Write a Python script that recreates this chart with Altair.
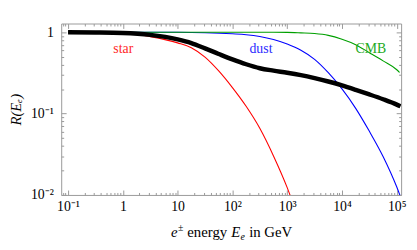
import altair as alt
import pandas as pd

# ---- data ----
STAR_E = [0.1, 0.316, 1, 3.16, 10, 17.8, 31.6, 56.2, 100, 178, 316, 562, 1000, 1260]
STAR_R = [1.0, 0.995, 0.984, 0.883, 0.74, 0.646, 0.495, 0.335, 0.209, 0.123, 0.066, 0.0302, 0.0123, 0.0081]

DUST_E = [0.1, 1, 10, 31.6, 100, 178, 316, 562, 1000, 1778, 3162, 5623, 10000, 17783, 31623, 56234, 100000, 125900]
DUST_R = [1.0, 1.0, 0.998, 0.986, 0.956, 0.933, 0.887, 0.813, 0.715, 0.60, 0.464, 0.318, 0.201, 0.116, 0.0605, 0.0297, 0.0125, 0.0083]

CMB_E = [0.1, 10, 100, 316, 562, 1000, 1778, 3162, 5623, 10000, 17783, 31623, 56234, 100000, 112200]
CMB_R = [1.0, 1.0, 1.0, 1.0, 0.999, 0.997, 0.983, 0.964, 0.915, 0.82, 0.703, 0.561, 0.445, 0.346, 0.32]

TOTAL_E = [0.1, 0.316, 1, 3.16, 10, 17.8, 31.6, 56.2, 100, 178, 316, 562, 1000, 1778, 3162,
           5623, 10000, 17783, 31623, 56234, 100000, 117000]
TOTAL_R = [1.0, 0.995, 0.98, 0.927, 0.816, 0.736, 0.634, 0.541, 0.464, 0.404, 0.361, 0.337, 0.318,
           0.297, 0.273, 0.248, 0.222, 0.196, 0.172, 0.150, 0.129, 0.123]

LABELS = ["star", "dust", "CMB"]
LABEL_E = [1.02, 332, 33700]
LABEL_R = [0.556, 0.556, 0.556]
LABEL_COLORS = ["#ff2a2a", "#2a2aff", "#22aa22"]

XTICKS = [0.1, 1, 10, 100, 1000, 10000, 100000]
XTICK_LABELS = ["10⁻¹", "1", "10", "10²", "10³", "10⁴", "10⁵"]
YTICKS = [0.01, 0.1, 1]
YTICK_LABELS = ["10⁻²", "10⁻¹", "1"]

X_DOMAIN = [0.075, 1.2e5]
Y_DOMAIN = [0.01, 1.28]

W, H = 345, 174
FONT = "Liberation Serif"
GRAY = "#999999"

# all tick positions (major + minor) inside the domains
def all_ticks(lo, hi):
    out = []
    for d in range(-3, 7):
        for k in range(1, 10):
            v = k * 10.0 ** d
            if lo <= v <= hi:
                out.append(v)
    return out

X_ALL = all_ticks(*X_DOMAIN)
Y_ALL = all_ticks(*Y_DOMAIN)

MAJOR_TEST = "abs(log(datum.value)/LN10 - round(log(datum.value)/LN10)) < 0.001"
TICK_SIZE = {"condition": {"test": MAJOR_TEST, "value": 5}, "value": 2.5}

xs = alt.Scale(type="log", domain=X_DOMAIN, nice=False)
ys = alt.Scale(type="log", domain=Y_DOMAIN, nice=False)

def lbl_expr(labels):
    return "[" + ",".join("'" + s + "'" for s in labels) + "]"

x_lab_expr = lbl_expr(XTICK_LABELS) + "[round(log(datum.value)/LN10) + 1]"
y_lab_expr = lbl_expr(YTICK_LABELS) + "[round(log(datum.value)/LN10) + 2]"

# labelled axes (bottom / left), no ticks
x_main = alt.Axis(orient="bottom", values=XTICKS, labelExpr=x_lab_expr, ticks=False, domain=False,
                  grid=False, labelFont=FONT, labelFontSize=14, labelColor="black", labelPadding=5,
                  labelFlush=False, labelOverlap=False, title=None)
y_main = alt.Axis(orient="left", values=YTICKS, labelExpr=y_lab_expr, ticks=False, domain=False,
                  grid=False, labelFont=FONT, labelFontSize=14, labelColor="black", labelPadding=8,
                  labelFlush=False, labelOverlap=False,
                  title="R(Eₑ)", titleFont=FONT, titleFontSize=15, titleFontStyle="italic",
                  titleFontWeight="normal", titleColor="black", titleAngle=270, titleX=-41,
                  titleY=H / 2, titleBaseline="alphabetic", titleAlign="center")

def tick_axis(orient, values, offset):
    return alt.Axis(orient=orient, values=values, offset=offset, labels=False, domain=False,
                    grid=False, title=None, tickColor=GRAY, tickWidth=1, tickSize=TICK_SIZE)

# inside ticks: bottom edge (top-oriented axis moved down), top edge (bottom-oriented moved up)
x_in_bottom = tick_axis("top", X_ALL, -H)
x_in_top = tick_axis("bottom", X_ALL, -H)
y_in_left = tick_axis("right", Y_ALL, -W)
y_in_right = tick_axis("left", Y_ALL, -W)

def line_layer(E, R, color, width, xaxis, yaxis):
    df = pd.DataFrame({"E": E, "R": R})
    return alt.Chart(df).mark_line(color=color, strokeWidth=width, interpolate="monotone",
                                   clip=True).encode(
        x=alt.X("E:Q", scale=xs, axis=xaxis),
        y=alt.Y("R:Q", scale=ys, axis=yaxis),
    )

star = line_layer(STAR_E, STAR_R, "#ff0000", 1.1, x_main, y_main)
dust = line_layer(DUST_E, DUST_R, "#0000ff", 1.1, x_in_bottom, y_in_left)
cmb = line_layer(CMB_E, CMB_R, "#00a000", 1.1, x_in_top, y_in_right)
total = line_layer(TOTAL_E, TOTAL_R, "#000000", 4.5, None, None)

lab_df = pd.DataFrame({"E": LABEL_E, "R": LABEL_R, "t": LABELS, "c": LABEL_COLORS})
labels = alt.Chart(lab_df).mark_text(font=FONT, fontSize=14, baseline="alphabetic",
                                     align="center").encode(
    x=alt.X("E:Q", scale=xs, axis=None),
    y=alt.Y("R:Q", scale=ys, axis=None),
    text="t:N",
    color=alt.Color("c:N", scale=None),
)

# x-axis title built from pieces (italic symbols, super/subscripts)
dummy = alt.Data(values=[{}])
TB = H + 43  # title baseline (plot coordinates)
X0 = 111.5

def piece(txt, x, y, size, style):
    return alt.Chart(dummy).mark_text(text=txt, font=FONT, fontSize=size, fontStyle=style,
                                      align="left", baseline="alphabetic", color="black").encode(
        x=alt.value(x), y=alt.value(y))

title_parts = [
    piece("e", X0, TB, 15, "italic"),
    piece("±", X0 + 7.1, TB - 6, 10, "normal"),
    piece("energy", X0 + 12.7 + 3.75, TB, 15, "normal"),
    piece("E", X0 + 12.7 + 48.3, TB, 15, "italic"),
    piece("e", X0 + 12.7 + 48.3 + 9.6, TB + 3, 10, "italic"),
    piece("in GeV", X0 + 12.7 + 48.3 + 9.6 + 4.9 + 3.75, TB, 15, "normal"),
]

chart = alt.layer(star, dust, cmb, total, labels, *title_parts).resolve_axis(
    x="independent", y="independent"
).properties(
    width=W, height=H,
    autosize=alt.AutoSizeParams(type="none"),
    padding={"left": 54, "top": 14, "right": 8, "bottom": 46},
    background="white",
).configure_view(stroke=GRAY, strokeWidth=1)

chart.save("out.html", embed_options={"renderer": "svg", "actions": False})
